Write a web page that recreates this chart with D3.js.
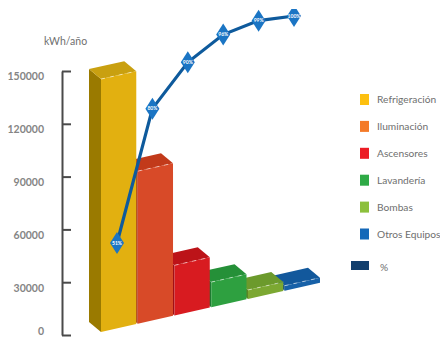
<!DOCTYPE html>
<html lang="es">
<head>
<meta charset="utf-8">
<title>Consumo eléctrico por uso</title>
<script src="https://cdn.jsdelivr.net/npm/d3@7"></script>
<style>
  html, body { margin: 0; padding: 0; background: #fff; }
  svg { display: block; }
  text { font-family: Lato, sans-serif; fill: #6f6f6f; }
</style>
</head>
<body>
<svg id="chart" width="440" height="337"></svg>
<script>
// Electricity use by end use, with the cumulative share on top
const categories = ["Refrigeración", "Iluminación", "Ascensores", "Lavandería", "Bombas", "Otros Equipos"];
const consumption = [143700, 86700, 28500, 14250, 5100, 2850];
const cumulativeShare = [51, 80, 90, 96, 99, 100];
const tickValues = [0, 30000, 60000, 90000, 120000, 150000];
const unitLabel = "kWh/año";
const shareLegendLabel = "%";

const frontColors = ["#e2b010", "#d84a28", "#d81b20", "#2ea040", "#7ca832", "#1761a8"];
const topColors = ["#c9a010", "#c23a1a", "#bc1318", "#259038", "#6c9a2c", "#12589c"];
const sideColors = ["#9a7a00", "#a8381c", "#a01015", "#1e7a30", "#5c8526", "#0e4a84"];
const legendColors = ["#fdc010", "#f47a28", "#ec1c24", "#2eaa46", "#8cc03c", "#1468b8"];

const svg = d3.select("#chart");

const y = d3.scaleLinear().domain([0, 150000]).range([335, 71]);
const xBar = d3.scaleBand().domain(categories).range([101, 320]).paddingInner(0.04).paddingOuter(0);
const xLine = d3.scalePoint().domain(categories).range([117, 294]);
const yShare = d3.scaleLinear().domain([51, 100]).range([243, 16]);

// Floor of the pseudo-3D scene: it climbs to the right
const floorSlope = -0.225;
const floorY = x => 332 + floorSlope * (x - 101);
const depth = { dx: -12, dy: -10 };
const polygon = pts => pts.map(p => p.join(",")).join(" ");

// Value axis
const axis = d3.axisLeft(y).tickValues(tickValues).tickSizeInner(-9).tickSizeOuter(0).tickPadding(18).tickFormat(d3.format("d"));
const axisG = svg.append("g").attr("transform", "translate(62,0)").call(axis);
axisG.attr("font-family", null).attr("font-size", null);
axisG.selectAll("path, line").attr("stroke", "#4a4a4a").attr("stroke-width", 2);
axisG.selectAll("text")
  .attr("y", d => d === 0 ? -4 : 0)
  .attr("dy", d => d === 0 ? "0.35em" : "0.85em")
  .style("font-size", "10.5px").style("font-weight", 700).style("fill", "#858585");

svg.append("text").attr("x", 44).attr("y", 45).style("font-size", "10.5px").text(unitLabel);

// Bars are painted back to front so nearer boxes overlap the ones behind
const bars = categories.map((c, i) => {
  const left = xBar(c), right = left + xBar.bandwidth();
  const h = y(0) - y(consumption[i]);
  return {
    i,
    fl: [left, floorY(left)], fr: [right, floorY(right)],
    tl: [left, floorY(left) - h], tr: [right, floorY(right) - h]
  };
}).reverse();

const shift = p => [p[0] + depth.dx, p[1] + depth.dy];
const barG = svg.append("g").selectAll("g").data(bars).join("g");
barG.append("polygon")
  .attr("points", d => polygon([d.tl, shift(d.tl), shift(d.fl), d.fl]))
  .attr("fill", d => sideColors[d.i]);
barG.append("polygon")
  .attr("points", d => polygon([d.tl, d.tr, shift(d.tr), shift(d.tl)]))
  .attr("fill", d => topColors[d.i]);
barG.append("polygon")
  .attr("points", d => polygon([d.tl, d.tr, d.fr, d.fl]))
  .attr("fill", d => frontColors[d.i]);
barG.append("line")
  .attr("x1", d => d.tl[0]).attr("y1", d => d.tl[1])
  .attr("x2", d => d.tr[0]).attr("y2", d => d.tr[1])
  .attr("stroke", "#fff").attr("stroke-opacity", 0.55).attr("stroke-width", 1).attr("stroke-dasharray", "4 5");

// Cumulative share line with diamond markers
const sharePoints = categories.map((c, i) => ({ x: xLine(c), y: yShare(cumulativeShare[i]), v: cumulativeShare[i] }));
svg.append("path")
  .attr("d", d3.line().x(d => d.x).y(d => d.y)(sharePoints))
  .attr("fill", "none").attr("stroke", "#0e5a9c").attr("stroke-width", 3.2);

// Markers stop at a flat edge near the top of the plot
svg.append("clipPath").attr("id", "marker-clip")
  .append("rect").attr("x", 0).attr("y", 9).attr("width", 440).attr("height", 328);

const marker = svg.append("g").attr("clip-path", "url(#marker-clip)")
  .selectAll("g").data(sharePoints).join("g")
  .attr("transform", d => `translate(${d.x},${d.y})`);
marker.append("polygon")
  .attr("points", "0,-11 7,0 0,11 -7,0")
  .attr("fill", "#1b75c4");
marker.append("text")
  .attr("text-anchor", "middle").attr("dy", "0.35em")
  .style("font-size", "5px").style("font-weight", 700).style("fill", "#fff")
  .text(d => d.v + "%");

// Legend
const legendY = d3.scalePoint().domain(categories).range([99.5, 234]);
const legend = svg.append("g").selectAll("g").data(categories).join("g")
  .attr("transform", d => `translate(0,${legendY(d)})`);
legend.append("rect").attr("x", 360).attr("y", -5.5).attr("width", 9).attr("height", 11)
  .attr("fill", (d, i) => legendColors[i]);
legend.append("text").attr("x", 377).attr("dy", "0.35em").style("font-size", "10.2px").text(d => d);

svg.append("rect").attr("x", 351).attr("y", 261).attr("width", 18).attr("height", 9).attr("fill", "#123f6d");
svg.append("text").attr("x", 380).attr("y", 271).style("font-size", "10.2px").text(shareLegendLabel);
</script>
</body>
</html>
